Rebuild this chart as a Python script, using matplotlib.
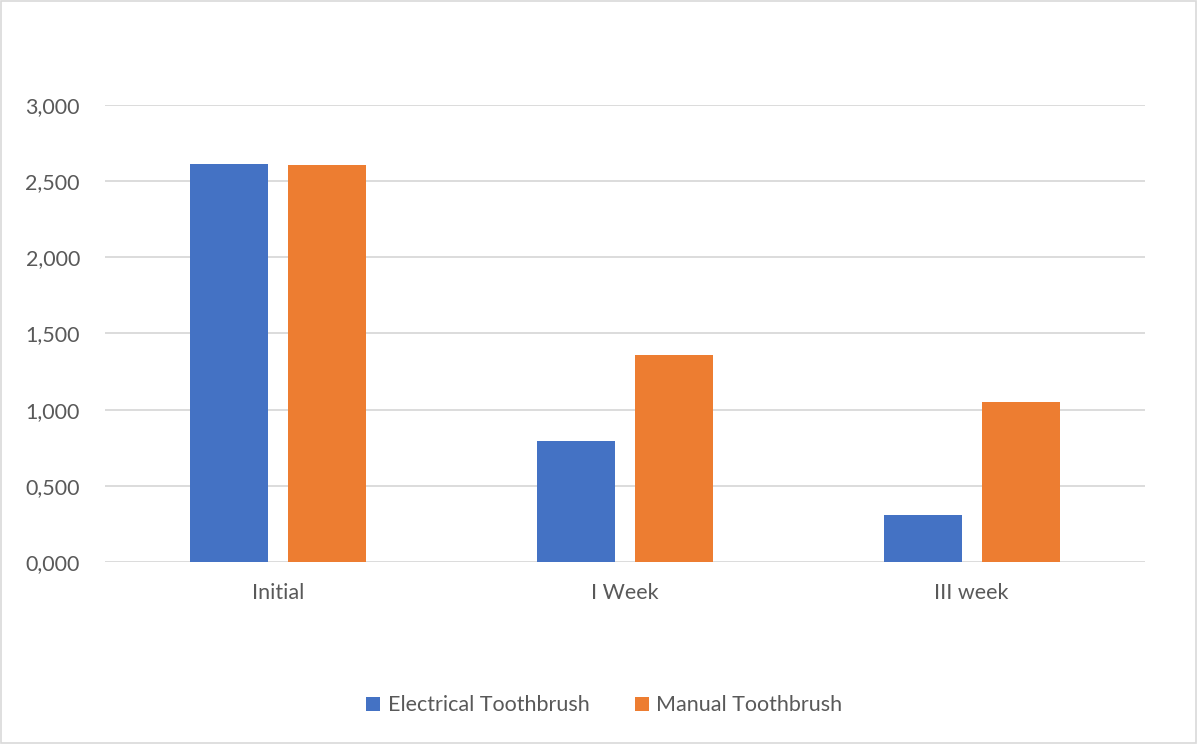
import numpy as np
import matplotlib
matplotlib.use('Agg')
import matplotlib.pyplot as plt
from matplotlib.ticker import FuncFormatter
from matplotlib.patches import Rectangle

categories = ['Initial', 'I Week', 'III week']
electrical = [2.613, 0.793, 0.310]
manual = [2.606, 1.360, 1.052]
series_names = ['Electrical Toothbrush', 'Manual Toothbrush']
colors = ['#4472C4', '#ED7D31']
text_color = '#595959'

plt.rcParams['font.family'] = ['Lato', 'DejaVu Sans']

fig = plt.figure(figsize=(11.97, 7.44), dpi=100)
ax = fig.add_axes([0.0877, 0.2446, 0.8689, 0.6143])

x = np.arange(len(categories))
w = 0.225
off = 0.141
ax.bar(x - off, electrical, w, color=colors[0], label=series_names[0], zorder=3)
ax.bar(x + off, manual, w, color=colors[1], label=series_names[1], zorder=3)

ax.set_xlim(-0.5, len(categories) - 0.5)
ax.set_ylim(0, 3.0)
ax.set_yticks(np.arange(0, 3.01, 0.5))
ax.yaxis.set_major_formatter(FuncFormatter(lambda v, p: f'{v:.3f}'.replace('.', ',')))
ax.set_xticks(x)
ax.set_xticklabels(categories)
ax.grid(axis='y', color='#D9D9D9', lw=1.3, zorder=0)
for s in ax.spines.values():
    s.set_visible(False)
ax.tick_params(axis='both', length=0, labelsize=15.5, colors=text_color)
ax.tick_params(axis='y', pad=18)
ax.tick_params(axis='x', pad=15)

fig.legend(loc='center', bbox_to_anchor=(0.505, 0.052), ncol=2, frameon=False,
           fontsize=15.5, labelcolor=text_color, handlelength=0.65, handleheight=0.65,
           handletextpad=0.35, columnspacing=2.1)

fig.patches.append(Rectangle((0.001, 0.001), 0.998, 0.998, transform=fig.transFigure,
                             fill=False, edgecolor='#D9D9D9', lw=1.2))

fig.savefig('out.png', dpi=100)
